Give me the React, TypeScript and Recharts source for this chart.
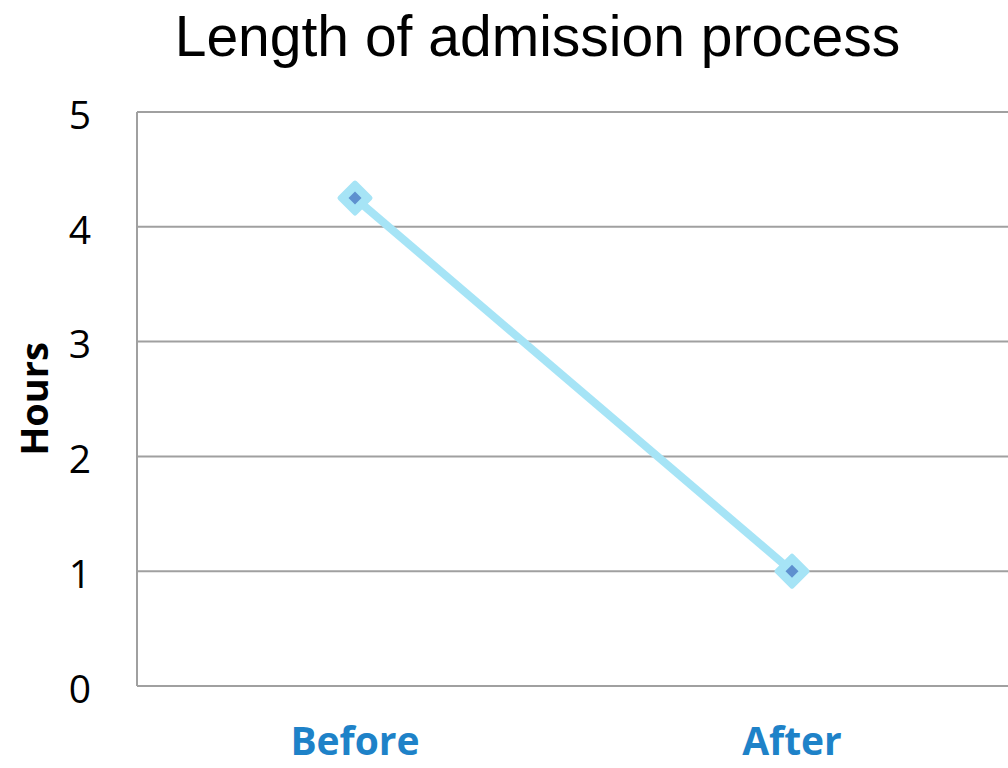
import React from "react";
import { LineChart, Line, XAxis, YAxis, CartesianGrid, Label } from "recharts";

const categories = ["Before", "After"];
const hours = [4.25, 1.0];
const yTicks = [0, 1, 2, 3, 4, 5];
const title = "Length of admission process";
const yAxisTitle = "Hours";

const data = categories.map((c, i) => ({ name: c, hours: hours[i] }));

const DiamondDot = (props: any) => {
  const { cx, cy } = props;
  if (cx == null || cy == null) return null;
  const o = 15;
  const n = 6.5;
  return (
    <g>
      <polygon
        points={`${cx},${cy - o} ${cx + o},${cy} ${cx},${cy + o} ${cx - o},${cy}`}
        fill="#A6E4F6"
        stroke="#A6E4F6"
        strokeWidth={5}
        strokeLinejoin="round"
      />
      <polygon
        points={`${cx},${cy - n} ${cx + n},${cy} ${cx},${cy + n} ${cx - n},${cy}`}
        fill="#5E90CF"
      />
    </g>
  );
};

export default function App() {
  return (
    <div
      style={{
        position: "absolute",
        left: 0,
        top: 0,
        width: 1008,
        height: 768,
        overflow: "hidden",
        background: "#fff",
      }}
    >
      <div
        style={{
          position: "absolute",
          left: 0,
          top: 3,
          width: 1075,
          textAlign: "center",
          fontFamily: "'Liberation Sans', Arial, sans-serif",
          fontSize: 57,
          lineHeight: "66px",
          color: "#000",
        }}
      >
        {title}
      </div>
      <LineChart
        width={1010}
        height={768}
        data={data}
        margin={{ top: 112, right: 0, bottom: 0, left: 0 }}
      >
        <CartesianGrid vertical={false} stroke="#A0A0A0" strokeWidth={2} />
        <XAxis
          dataKey="name"
          height={82}
          padding={{ left: 218, right: 218 }}
          axisLine={{ stroke: "#A0A0A0", strokeWidth: 2 }}
          tickLine={false}
          tickSize={0}
          tickMargin={41}
          tick={{
            fill: "#1E82C8",
            fontSize: 39,
            fontWeight: 700,
            fontFamily: "'Open Sans', sans-serif",
          }}
        />
        <YAxis
          width={137}
          domain={[0, 5]}
          ticks={yTicks}
          interval={0}
          axisLine={{ stroke: "#A0A0A0", strokeWidth: 2 }}
          tickLine={false}
          tickSize={0}
          tickMargin={46}
          tick={{
            fill: "#000",
            fontSize: 39,
            fontFamily: "'Open Sans', sans-serif",
            dy: 3,
          }}
        >
          <Label
            value={yAxisTitle}
            angle={-90}
            position="insideLeft"
            offset={35}
            style={{
              fill: "#000",
              fontSize: 38,
              fontWeight: 700,
              fontFamily: "'Open Sans', sans-serif",
              textAnchor: "middle",
            }}
          />
        </YAxis>
        <Line
          type="linear"
          dataKey="hours"
          stroke="#A6E4F6"
          strokeWidth={8}
          dot={<DiamondDot />}
          activeDot={false}
          isAnimationActive={false}
        />
      </LineChart>
    </div>
  );
}
